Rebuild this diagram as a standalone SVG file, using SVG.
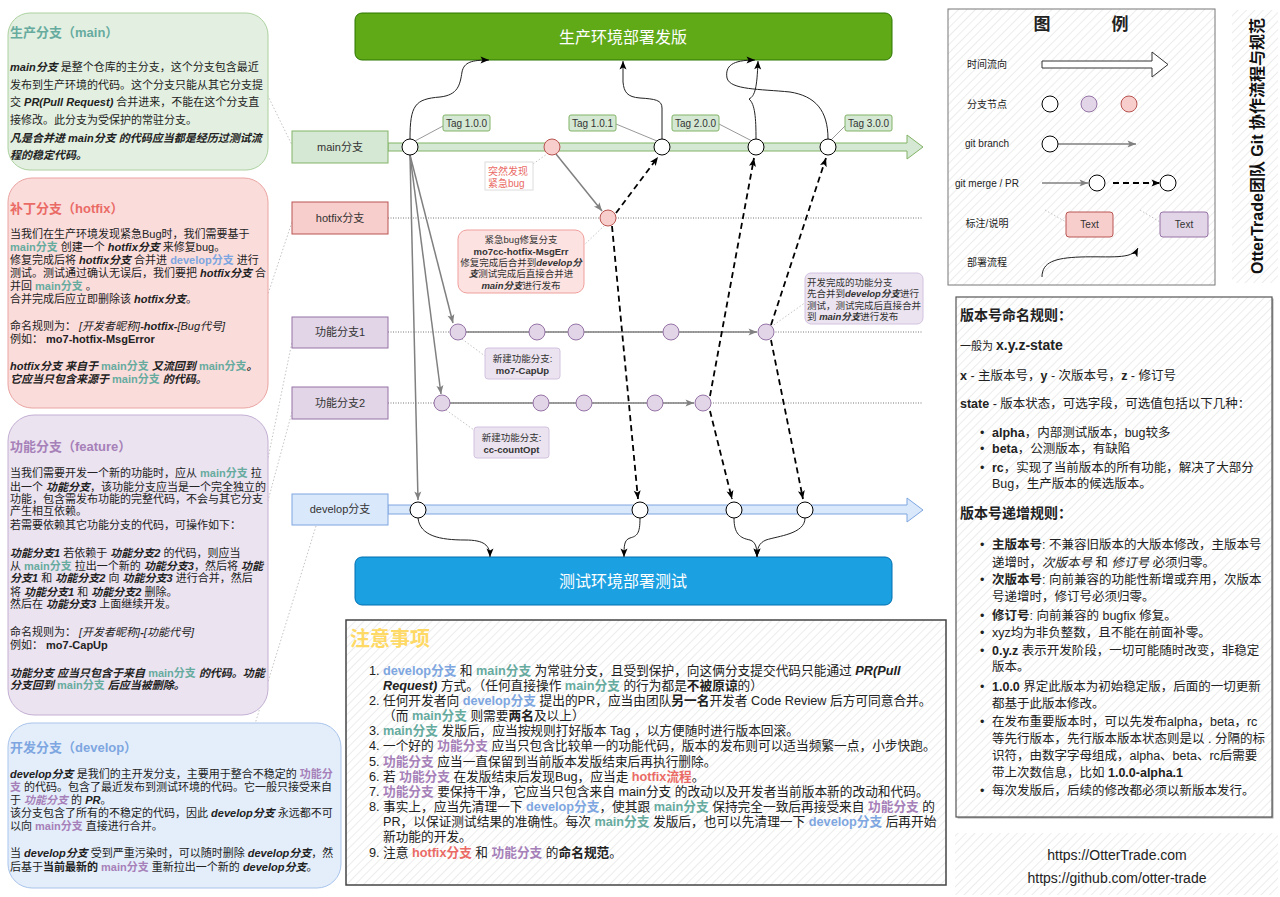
<svg xmlns="http://www.w3.org/2000/svg" width="1280" height="897" viewBox="0 0 1280 897">
<defs>
<style>
text{font-family:"Liberation Sans","Noto Sans CJK SC",sans-serif;fill:#222}
.b{font-weight:bold}
.i{font-style:italic}
.bi{font-weight:bold;font-style:italic}
.tl{fill:#67ab9f;font-weight:bold}
.bl{fill:#7ea6e0;font-weight:bold}
.pu{fill:#a680b8;font-weight:bold}
.rd{fill:#ea6b66;font-weight:bold}
.p11{font-size:11px}
.ttl{font-size:13px;font-weight:bold}
.nt{font-size:12.7px}
.vr{font-size:12.5px}
.lg{font-size:10px;text-anchor:middle}
.lbl{font-size:9.5px;fill:#333}
.bx{font-size:11px;text-anchor:middle;fill:#333}
.tg{font-size:10px;text-anchor:middle;fill:#333}
.pdot{stroke:#c4c4c4;stroke-width:1;stroke-dasharray:1.5 2;fill:none}
.bdot{stroke:#777;stroke-width:1;stroke-dasharray:1 1.5;fill:none}
.gray{stroke:#808080;stroke-width:1.5;fill:none;marker-end:url(#ag)}
.dash{stroke:#000;stroke-width:1.8;stroke-dasharray:6 4;fill:none;marker-end:url(#ak)}
.dep{stroke:#222;stroke-width:1;fill:none;marker-end:url(#ak)}
.nw{fill:#fff;stroke:#000;stroke-width:1}
.np{fill:#e1d5e7;stroke:#9673a6;stroke-width:1}
.nr{fill:#f8cecc;stroke:#b85450;stroke-width:1}
.tag{fill:#d5e8d4;stroke:#82b366;stroke-width:1}
.tline{stroke:#999;stroke-width:1;fill:none}
</style>
<pattern id="hatch" width="6" height="6" patternUnits="userSpaceOnUse" patternTransform="rotate(45)">
<rect width="6" height="6" fill="#fff"/>
<line x1="0" y1="0" x2="0" y2="6" stroke="#e0e0e0" stroke-width="1.2"/>
</pattern>
<marker id="ag" markerWidth="10" markerHeight="10" refX="9" refY="5" orient="auto" markerUnits="userSpaceOnUse"><path d="M0.5,1.5 L9,5 L0.5,8.5 L2.5,5 z" fill="#808080"/></marker>
<marker id="ak" markerWidth="10" markerHeight="10" refX="9" refY="5" orient="auto" markerUnits="userSpaceOnUse"><path d="M0.5,1.5 L9,5 L0.5,8.5 L2.5,5 z" fill="#000"/></marker>
</defs>
<rect width="1280" height="897" fill="#fff"/>

<!-- panel-to-box dotted connectors -->
<g id="panel-links">
<path class="pdot" d="M266,92 L292,145"/>
<path class="pdot" d="M266,300 L292,222"/>
<path class="pdot" d="M266,468 L292,342"/>
<path class="pdot" d="M266,508 L292,412"/>
<path class="pdot" d="M316,526 L255,724"/>
</g>

<!-- Left panels -->
<g id="panel-main">
<rect x="8" y="13" width="260" height="157" rx="22" fill="#e3f0e1" stroke="#acd19f"/>
<text x="10" y="37" class="ttl tl">生产分支（main）</text>
<text class="p11" x="10" y="71"><tspan class="bi">main分支</tspan> 是整个仓库的主分支，这个分支包含最近</text>
<text class="p11" x="10" y="89">发布到生产环境的代码。这个分支只能从其它分支提</text>
<text class="p11" x="10" y="106">交 <tspan class="bi">PR(Pull Request)</tspan> 合并进来，不能在这个分支直</text>
<text class="p11" x="10" y="124">接修改。此分支为受保护的常驻分支。</text>
<text class="p11 bi" x="10" y="142">凡是合并进 main分支 的代码应当都是经历过测试流</text>
<text class="p11 bi" x="10" y="159">程的稳定代码。</text>
</g>

<g id="panel-hotfix">
<rect x="8" y="178" width="260" height="230" rx="24" fill="#fadcdb" stroke="#eaa5a2"/>
<text x="10" y="213" class="ttl rd">补丁分支（hotfix）</text>
<text class="p11" x="10" y="238">当我们在生产环境发现紧急Bug时，我们需要基于</text>
<text class="p11" x="10" y="251"><tspan class="tl">main分支</tspan> 创建一个 <tspan class="bi">hotfix分支</tspan> 来修复bug。</text>
<text class="p11" x="10" y="264">修复完成后将 <tspan class="bi">hotfix分支</tspan> 合并进 <tspan class="bl">develop分支</tspan> 进行</text>
<text class="p11" x="10" y="277">测试。测试通过确认无误后，我们要把 <tspan class="bi">hotfix分支</tspan> 合</text>
<text class="p11" x="10" y="290">并回 <tspan class="tl">main分支</tspan> 。</text>
<text class="p11" x="10" y="303">合并完成后应立即删除该 <tspan class="bi">hotfix分支</tspan>。</text>
<text class="p11" x="10" y="330">命名规则为：  <tspan class="i">[开发者昵称]</tspan><tspan class="bi">-hotfix-</tspan><tspan class="i">[Bug代号]</tspan></text>
<text class="p11" x="10" y="343">例如：  <tspan class="b">mo7-hotfix-MsgError</tspan></text>
<text class="p11" x="10" y="370"><tspan class="bi">hotfix分支 来自于</tspan> <tspan class="tl">main分支</tspan> <tspan class="bi">又流回到</tspan> <tspan class="tl">main分支</tspan><tspan class="bi">。</tspan></text>
<text class="p11" x="10" y="383"><tspan class="bi">它应当只包含来源于</tspan> <tspan class="tl">main分支</tspan> <tspan class="bi">的代码。</tspan></text>
</g>

<g id="panel-feature">
<rect x="8" y="415" width="260" height="300" rx="26" fill="#ebe3f0" stroke="#c3afd3"/>
<text x="10" y="451" class="ttl pu">功能分支（feature）</text>
<text class="p11" x="10" y="477">当我们需要开发一个新的功能时，应从 <tspan class="tl">main分支</tspan> 拉</text>
<text class="p11" x="10" y="491">出一个 <tspan class="bi">功能分支</tspan>，该功能分支应当是一个完全独立的</text>
<text class="p11" x="10" y="503">功能，包含需发布功能的完整代码，不会与其它分支</text>
<text class="p11" x="10" y="515">产生相互依赖。</text>
<text class="p11" x="10" y="529">若需要依赖其它功能分支的代码，可操作如下：</text>
<text class="p11" x="10" y="557"><tspan class="bi">功能分支1</tspan> 若依赖于 <tspan class="bi">功能分支2</tspan> 的代码，则应当</text>
<text class="p11" x="10" y="570">从 <tspan class="tl">main分支</tspan> 拉出一个新的 <tspan class="bi">功能分支3</tspan>，然后将 <tspan class="bi">功能</tspan></text>
<text class="p11" x="10" y="582"><tspan class="bi">分支1</tspan> 和 <tspan class="bi">功能分支2</tspan> 向 <tspan class="bi">功能分支3</tspan> 进行合并，然后</text>
<text class="p11" x="10" y="596">将 <tspan class="bi">功能分支1</tspan> 和 <tspan class="bi">功能分支2</tspan> 删除。</text>
<text class="p11" x="10" y="608">然后在 <tspan class="bi">功能分支3</tspan> 上面继续开发。</text>
<text class="p11" x="10" y="636">命名规则为：  <tspan class="i">[开发者昵称]</tspan><tspan class="bi">-</tspan><tspan class="i">[功能代号]</tspan></text>
<text class="p11" x="10" y="649">例如：  <tspan class="b">mo7-CapUp</tspan></text>
<text class="p11" x="10" y="677"><tspan class="bi">功能分支 应当只包含于来自</tspan> <tspan class="tl">main分支</tspan> <tspan class="bi">的代码。功能</tspan></text>
<text class="p11" x="10" y="689"><tspan class="bi">分支回到</tspan> <tspan class="tl">main分支</tspan> <tspan class="bi">后应当被删除。</tspan></text>
</g>

<g id="panel-develop">
<rect x="8" y="723" width="333" height="165" rx="24" fill="#e4eefb" stroke="#a9c4eb"/>
<text x="10" y="752" class="ttl bl">开发分支（develop）</text>
<text class="p11" x="10" y="778"><tspan class="bi">develop分支</tspan> 是我们的主开发分支，主要用于整合不稳定的 <tspan class="pu">功能分</tspan></text>
<text class="p11" x="10" y="791"><tspan class="pu">支</tspan> 的代码。包含了最近发布到测试环境的代码。它一般只接受来自</text>
<text class="p11" x="10" y="804">于 <tspan class="pu" font-style="italic">功能分支</tspan> 的 <tspan class="bi">PR</tspan>。</text>
<text class="p11" x="10" y="817">该分支包含了所有的不稳定的代码，因此 <tspan class="bi">develop分支</tspan> 永远都不可</text>
<text class="p11" x="10" y="830">以向 <tspan class="pu">main分支</tspan> 直接进行合并。</text>
<text class="p11" x="10" y="857">当 <tspan class="bi">develop分支</tspan> 受到严重污染时，可以随时删除 <tspan class="bi">develop分支</tspan>，然</text>
<text class="p11" x="10" y="871">后基于<tspan class="b">当前最新的</tspan> <tspan class="pu">main分支</tspan> 重新拉出一个新的 <tspan class="bi">develop分支</tspan>。</text>
</g>

<!-- Deploy boxes -->
<g id="prod-box">
<rect x="355" y="13" width="537" height="47" rx="7" fill="#60a917" stroke="#2d7600"/>
<text x="623" y="43" font-size="16" text-anchor="middle" style="fill:#fff">生产环境部署发版</text>
</g>
<g id="test-box">
<rect x="355" y="557" width="537" height="48" rx="7" fill="#1ba1e2" stroke="#006eaf"/>
<text x="623" y="587" font-size="16" text-anchor="middle" style="fill:#fff">测试环境部署测试</text>
</g>

<!-- Branch lanes -->
<g id="branch-main">
<polygon points="388,143 907,143 907,135 923,147 907,159 907,151 388,151" fill="#d5e8d4" stroke="#82b366"/>
<rect x="292" y="131" width="96" height="32" fill="#d5e8d4" stroke="#82b366"/>
<text class="bx" x="340" y="151">main分支</text>
</g>
<g id="branch-hotfix">
<path class="bdot" d="M388,218 L922,218"/>
<rect x="292" y="202" width="96" height="32" fill="#f8cecc" stroke="#b85450"/>
<text class="bx" x="340" y="222">hotfix分支</text>
</g>
<g id="branch-feature1">
<path class="bdot" d="M388,332 L922,332"/>
<rect x="292" y="317" width="96" height="31" fill="#e1d5e7" stroke="#9673a6"/>
<text class="bx" x="340" y="336">功能分支1</text>
</g>
<g id="branch-feature2">
<path class="bdot" d="M388,403 L922,403"/>
<rect x="292" y="387" width="96" height="32" fill="#e1d5e7" stroke="#9673a6"/>
<text class="bx" x="340" y="407">功能分支2</text>
</g>
<g id="branch-develop">
<polygon points="388,505 907,505 907,498 923,510 907,522 907,514 388,514" fill="#dae8fc" stroke="#7ea6e0"/>
<rect x="292" y="494" width="96" height="31" fill="#dae8fc" stroke="#7ea6e0"/>
<text class="bx" x="340" y="513">develop分支</text>
</g>

<!-- Connectors -->
<g id="connectors">
<path class="tline" d="M443,126 L415,141"/>
<path class="tline" d="M616,124 L657,141"/>
<path class="tline" d="M719,124 L752,141"/>
<path class="tline" d="M845,126 L831,140"/>
<path class="pdot" d="M533,164 L547,154"/>
<path class="pdot" d="M583,246 L604,226"/>
<path class="pdot" d="M462,339 L485,356"/>
<path class="pdot" d="M446,410 L474,430"/>
<path class="pdot" d="M771,327 L806,302"/>
<path class="gray" d="M410,155 L418,500"/>
<path class="gray" d="M410,155 L441,394"/>
<path class="gray" d="M410,155 L453,323"/>
<path class="gray" d="M556,154 L602,211"/>
<path class="gray" d="M466,332 L757,332"/>
<path class="gray" d="M450,403 L694,403"/>
<path class="dash" d="M616,213 L658,157"/>
<path class="dash" d="M612,226 L638,499"/>
<path class="dash" d="M710,396 L754,158"/>
<path class="dash" d="M710,411 L732,499"/>
<path class="dash" d="M771,325 L826,158"/>
<path class="dash" d="M771,340 L803,499"/>
<path class="dep" d="M410,139 C410,105 415,99 440,97 C458,95 460,85 462,72 C464,62 472,60 489,60"/>
<path class="dep" d="M662,139 L662,108 C662,100 655,99 640,98 C627,97 624,92 623,82 L623,61"/>
<path class="dep" d="M756,139 C756,118 755,104 749,99 C755,96 757,88 758,61"/>
<path class="dep" d="M828,139 C828,110 815,96 790,92 C760,89 730,90 727,78 C725,66 732,60 755,60"/>
<path class="dep" d="M418,518 C420,536 440,540 465,540 C484,540 490,545 490,557"/>
<path class="dep" d="M640,518 C640,534 637,536 630,538 C624,540 624,546 624,557"/>
<path class="dep" d="M734,518 C734,534 740,538 750,540 C756,542 757,548 757,557"/>
<path class="dep" d="M805,518 C805,534 778,536 766,540 C759,543 757,548 757,557"/>
</g>

<!-- Nodes -->
<g id="nodes-main">
<circle class="nw" cx="410" cy="147" r="8"/>
<circle class="nr" cx="552" cy="147" r="8"/>
<circle class="nw" cx="662" cy="147" r="8"/>
<circle class="nw" cx="756" cy="147" r="8"/>
<circle class="nw" cx="828" cy="147" r="8"/>
</g>
<g id="nodes-hotfix">
<circle class="nr" cx="608" cy="218" r="8"/>
</g>
<g id="nodes-feature1">
<circle class="np" cx="458" cy="332" r="8"/>
<circle class="np" cx="537" cy="332" r="8"/>
<circle class="np" cx="576" cy="332" r="8"/>
<circle class="np" cx="671" cy="332" r="8"/>
<circle class="np" cx="766" cy="332" r="8"/>
</g>
<g id="nodes-feature2">
<circle class="np" cx="442" cy="403" r="8"/>
<circle class="np" cx="541" cy="403" r="8"/>
<circle class="np" cx="584" cy="403" r="8"/>
<circle class="np" cx="655" cy="403" r="8"/>
<circle class="np" cx="703" cy="403" r="8"/>
</g>
<g id="nodes-develop">
<circle class="nw" cx="418" cy="510" r="8"/>
<circle class="nw" cx="640" cy="510" r="8"/>
<circle class="nw" cx="734" cy="510" r="8"/>
<circle class="nw" cx="805" cy="510" r="8"/>
</g>

<!-- Tags -->
<g id="tag-100"><rect class="tag" x="443" y="115" width="47" height="16" rx="2"/><text class="tg" x="466.5" y="127">Tag 1.0.0</text></g>
<g id="tag-101"><rect class="tag" x="569" y="115" width="47" height="16" rx="2"/><text class="tg" x="592.5" y="127">Tag 1.0.1</text></g>
<g id="tag-200"><rect class="tag" x="672" y="115" width="47" height="16" rx="2"/><text class="tg" x="695.5" y="127">Tag 2.0.0</text></g>
<g id="tag-300"><rect class="tag" x="845" y="115" width="47" height="16" rx="2"/><text class="tg" x="868.5" y="127">Tag 3.0.0</text></g>

<!-- Annotations -->
<g id="note-bug">
<rect x="485" y="162" width="48" height="28" fill="#fff" stroke="#dcdcdc"/>
<text x="488" y="175" font-size="10" style="fill:#ea6b66">突然发现</text>
<text x="488" y="187" font-size="10" style="fill:#ea6b66">紧急bug</text>
</g>
<g id="note-hotfix">
<rect x="458" y="230" width="126" height="63" rx="9" fill="#fce3e2" stroke="#ef9f9c"/>
<text class="lbl" x="521" y="243" text-anchor="middle">紧急bug修复分支</text>
<text class="lbl b" x="521" y="255" text-anchor="middle">mo7cc-hotfix-MsgErr</text>
<text class="lbl" x="521" y="266" text-anchor="middle">修复完成后合并到<tspan class="bi">develop分</tspan></text>
<text class="lbl" x="521" y="277" text-anchor="middle"><tspan class="bi">支</tspan>测试完成后直接合并进</text>
<text class="lbl" x="521" y="289" text-anchor="middle"><tspan class="bi">main分支</tspan>进行发布</text>
</g>
<g id="note-feature1">
<rect x="485" y="348" width="75" height="31" rx="3" fill="#ebe3f0" stroke="#d2c2e0"/>
<text class="lbl" x="522.5" y="362" text-anchor="middle">新建功能分支:</text>
<text class="lbl b" x="522.5" y="374" text-anchor="middle">mo7-CapUp</text>
</g>
<g id="note-feature2">
<rect x="474" y="427" width="75" height="31" rx="3" fill="#ebe3f0" stroke="#d2c2e0"/>
<text class="lbl" x="511.5" y="441" text-anchor="middle">新建功能分支:</text>
<text class="lbl b" x="511.5" y="453" text-anchor="middle">cc-countOpt</text>
</g>
<g id="note-done">
<rect x="805" y="273" width="118" height="51" rx="6" fill="#ebe3f0" stroke="#d2c2e0"/>
<text class="lbl" x="807" y="286">开发完成的功能分支</text>
<text class="lbl" x="807" y="297">先合并到<tspan class="bi">develop分支</tspan>进行</text>
<text class="lbl" x="807" y="309">测试，测试完成后直接合并</text>
<text class="lbl" x="807" y="320">到 <tspan class="bi">main分支</tspan>进行发布</text>
</g>

<!-- Notes -->
<g id="notes">
<rect x="346" y="620" width="600" height="265" fill="url(#hatch)" stroke="#444" stroke-width="1.5"/>
<text x="350" y="646" font-size="20" font-weight="bold" style="fill:#ffd966">注意事项</text>
<text class="nt" y="674.5"><tspan x="369">1.</tspan><tspan x="383" class="bl">develop分支</tspan> 和  <tspan class="tl">main分支</tspan> 为常驻分支，且受到保护，向这俩分支提交代码只能通过 <tspan class="bi">PR(Pull</tspan></text>
<text class="nt" x="383" y="689.7"><tspan class="bi">Request)</tspan> 方式。（任何直接操作 <tspan class="tl">main分支</tspan> 的行为都是<tspan class="b">不被原谅</tspan>的）</text>
<text class="nt" y="704.8"><tspan x="369">2.</tspan><tspan x="383">任何开发者向</tspan> <tspan class="bl">develop分支</tspan> 提出的PR，应当由团队<tspan class="b">另一名</tspan>开发者 Code Review 后方可同意合并。</text>
<text class="nt" x="383" y="720">（而 <tspan class="tl">main分支</tspan> 则需要<tspan class="b">两名</tspan>及以上）</text>
<text class="nt" y="735.2"><tspan x="369">3.</tspan><tspan x="383" class="tl">main分支</tspan> 发版后，应当按规则打好版本 Tag ，以方便随时进行版本回滚。</text>
<text class="nt" y="750.3"><tspan x="369">4.</tspan><tspan x="383">一个好的</tspan> <tspan class="pu">功能分支</tspan> 应当只包含比较单一的功能代码，版本的发布则可以适当频繁一点，小步快跑。</text>
<text class="nt" y="765.5"><tspan x="369">5.</tspan><tspan x="383" class="pu">功能分支</tspan> 应当一直保留到当前版本发版结束后再执行删除。</text>
<text class="nt" y="780.7"><tspan x="369">6.</tspan><tspan x="383">若</tspan> <tspan class="pu">功能分支</tspan> 在发版结束后发现Bug，应当走 <tspan class="rd">hotfix流程</tspan>。</text>
<text class="nt" y="795.9"><tspan x="369">7.</tspan><tspan x="383" class="pu">功能分支</tspan> 要保持干净，它应当只包含来自 main分支 的改动以及开发者当前版本新的改动和代码。</text>
<text class="nt" y="811"><tspan x="369">8.</tspan><tspan x="383">事实上，应当先清理一下</tspan> <tspan class="bl">develop分支</tspan>，使其跟 <tspan class="tl">main分支</tspan> 保持完全一致后再接受来自 <tspan class="pu">功能分支</tspan> 的</text>
<text class="nt" x="383" y="826.2">PR，以保证测试结果的准确性。每次 <tspan class="tl">main分支</tspan> 发版后，也可以先清理一下 <tspan class="bl">develop分支</tspan> 后再开始</text>
<text class="nt" x="383" y="841.4">新功能的开发。</text>
<text class="nt" y="856.5"><tspan x="369">9.</tspan><tspan x="383">注意</tspan> <tspan class="rd">hotfix分支</tspan> 和 <tspan class="pu">功能分支</tspan> 的<tspan class="b">命名规范</tspan>。</text>
</g>

<!-- Legend -->
<g id="legend">
<rect x="948" y="9" width="267" height="276" fill="url(#hatch)" stroke="#777"/>
<text x="1042" y="30" font-size="17" font-weight="bold" text-anchor="middle">图</text>
<text x="1120" y="30" font-size="17" font-weight="bold" text-anchor="middle">例</text>
<text class="lg" x="987" y="68">时间流向</text>
<polygon points="1042,61 1152,61 1152,52 1168,64.5 1152,77 1152,68 1042,68" fill="#fff" stroke="#333"/>
<text class="lg" x="987" y="108">分支节点</text>
<circle class="nw" cx="1050" cy="104" r="8"/>
<circle class="np" cx="1089" cy="104" r="8"/>
<circle class="nr" cx="1129" cy="104" r="8"/>
<text class="lg" x="987" y="147">git branch</text>
<path class="gray" d="M1058,144 L1136,144"/>
<circle class="nw" cx="1050" cy="144" r="8"/>
<text class="lg" x="987" y="187">git merge / PR</text>
<path class="gray" d="M1042,183 L1088,183"/>
<circle class="nw" cx="1097" cy="183" r="8"/>
<path class="dash" d="M1113,183 L1160,183"/>
<circle class="nw" cx="1168" cy="183" r="8"/>
<text class="lg" x="987" y="227">标注/说明</text>
<path class="pdot" d="M1045,210 L1066,222"/>
<path class="pdot" d="M1140,210 L1160,222"/>
<rect x="1066" y="212" width="47" height="25" rx="3" fill="#f8cecc" stroke="#b85450"/>
<text class="lg" x="1089.5" y="228" style="fill:#333">Text</text>
<rect x="1160" y="212" width="48" height="25" rx="3" fill="#e1d5e7" stroke="#9673a6"/>
<text class="lg" x="1184" y="228" style="fill:#333">Text</text>
<text class="lg" x="987" y="266">部署流程</text>
<path class="dep" d="M1042,277 C1042,262 1055,258 1080,257 C1110,256 1132,260 1138,248"/>
</g>

<!-- Vertical title -->
<g id="title">
<rect x="1232" y="10" width="46" height="273" fill="url(#hatch)"/>
<text transform="translate(1263,146) rotate(-90)" text-anchor="middle" font-size="16" font-weight="bold" style="fill:#111">OtterTrade团队 Git 协作流程与规范</text>
</g>

<!-- Version rules -->
<g id="version-rules">
<rect x="957.5" y="298.5" width="316" height="520" fill="#aaa"/>
<rect x="956" y="297" width="316" height="520" fill="url(#hatch)" stroke="#555" stroke-width="1.2"/>
<text x="960" y="320" font-size="14" font-weight="bold">版本号命名规则：</text>
<text x="960" y="350" font-size="11">一般为  <tspan font-size="14" font-weight="bold">x.y.z-state</tspan></text>
<text class="vr" x="960" y="380"><tspan class="b">x</tspan> - 主版本号，<tspan class="b">y</tspan> - 次版本号，<tspan class="b">z</tspan> - 修订号</text>
<text class="vr" x="960" y="408"><tspan class="b">state</tspan> - 版本状态，可选字段，可选值包括以下几种：</text>
<text class="vr" x="980" y="436.5">•</text><text class="vr" x="992" y="436.5"><tspan class="b">alpha</tspan>，内部测试版本，bug较多</text>
<text class="vr" x="980" y="452.5">•</text><text class="vr" x="992" y="452.5"><tspan class="b">beta</tspan>，公测版本，有缺陷</text>
<text class="vr" x="980" y="471.5">•</text><text class="vr" x="992" y="471.5"><tspan class="b">rc</tspan>，实现了当前版本的所有功能，解决了大部分</text>
<text class="vr" x="992" y="487.5">Bug，生产版本的候选版本。</text>
<text x="960" y="518" font-size="14" font-weight="bold">版本号递增规则：</text>
<text class="vr" x="980" y="549.4">•</text><text class="vr" x="992" y="549.4"><tspan class="b">主版本号</tspan>: 不兼容旧版本的大版本修改，主版本号</text>
<text class="vr" x="992" y="567">递增时，<tspan class="i">次版本号</tspan> 和 <tspan class="i">修订号</tspan> 必须归零。</text>
<text class="vr" x="980" y="584.4">•</text><text class="vr" x="992" y="584.4"><tspan class="b">次版本号</tspan>: 向前兼容的功能性新增或弃用，次版本</text>
<text class="vr" x="992" y="601">号递增时，修订号必须归零。</text>
<text class="vr" x="980" y="620.4">•</text><text class="vr" x="992" y="620.4"><tspan class="b">修订号</tspan>: 向前兼容的 bugfix 修复。</text>
<text class="vr" x="980" y="637.4">•</text><text class="vr" x="992" y="637.4">xyz均为非负整数，且不能在前面补零。</text>
<text class="vr" x="980" y="655">•</text><text class="vr" x="992" y="655"><tspan class="b">0.y.z</tspan> 表示开发阶段，一切可能随时改变，非稳定</text>
<text class="vr" x="992" y="671">版本。</text>
<text class="vr" x="980" y="691">•</text><text class="vr" x="992" y="691"><tspan class="b">1.0.0</tspan> 界定此版本为初始稳定版，后面的一切更新</text>
<text class="vr" x="992" y="707.7">都基于此版本修改。</text>
<text class="vr" x="980" y="726">•</text><text class="vr" x="992" y="726">在发布重要版本时，可以先发布alpha，beta，rc</text>
<text class="vr" x="992" y="742.7">等先行版本，先行版本版本状态则是以 . 分隔的标</text>
<text class="vr" x="992" y="760.4">识符，由数字字母组成，alpha、beta、rc后需要</text>
<text class="vr" x="992" y="777">带上次数信息，比如 <tspan class="b">1.0.0-alpha.1</tspan></text>
<text class="vr" x="980" y="795.4">•</text><text class="vr" x="992" y="795.4">每次发版后，后续的修改都必须以新版本发行。</text>
</g>

<!-- URLs -->
<g id="links">
<rect x="955" y="833" width="323" height="62" fill="url(#hatch)"/>
<text x="1117" y="860" font-size="14" text-anchor="middle">https://OtterTrade.com</text>
<text x="1117" y="883" font-size="14" text-anchor="middle">https://github.com/otter-trade</text>
</g>
</svg>
